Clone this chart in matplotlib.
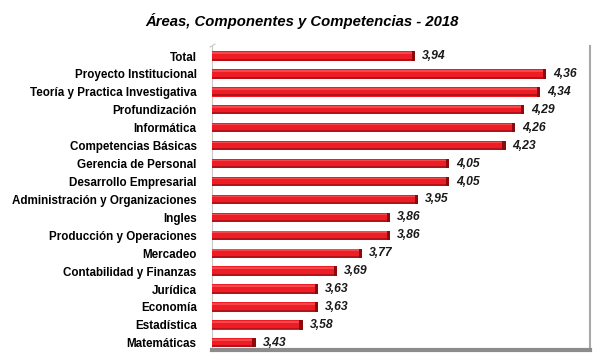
"""Áreas, Componentes y Competencias - 2018: barras horizontales."""

import matplotlib
matplotlib.use("Agg")
import matplotlib.pyplot as plt
from matplotlib.lines import Line2D

plt.rcParams["font.family"] = ["Liberation Sans", "DejaVu Sans"]

categorias = [
    "Total",
    "Proyecto Institucional",
    "Teoría y Practica Investigativa",
    "Profundización",
    "Informática",
    "Competencias Básicas",
    "Gerencia de Personal",
    "Desarrollo Empresarial",
    "Administración y Organizaciones",
    "Ingles",
    "Producción y Operaciones",
    "Mercadeo",
    "Contabilidad y Finanzas",
    "Jurídica",
    "Economía",
    "Estadística",
    "Matemáticas",
]
valores = [3.94, 4.36, 4.34, 4.29, 4.26, 4.23, 4.05, 4.05, 3.95,
           3.86, 3.86, 3.77, 3.69, 3.63, 3.63, 3.58, 3.43]
etiquetas = [f"{v:.2f}".replace(".", ",") for v in valores]

X_MIN, X_MAX = 3.29, 4.5

fig = plt.figure(figsize=(6.04, 3.61), dpi=100)
ax = fig.add_axes([212 / 604, 11 / 361, 378 / 604, 304 / 361])

pos = list(range(len(categorias)))
anchos = [v - X_MIN for v in valores]

# cuerpo rojo
ax.barh(pos, anchos, left=X_MIN, height=0.52, color="#ee1c24", zorder=3)
# brillo superior y sombra inferior
ax.barh([p - 0.17 for p in pos], anchos, left=X_MIN, height=0.09,
        color="#f4484d", zorder=4, linewidth=0)
ax.barh([p + 0.2 for p in pos], anchos, left=X_MIN, height=0.11,
        color="#b3121a", zorder=4, linewidth=0)
# tapa del cilindro
ax.barh(pos, [0.011] * len(pos), left=[v - 0.011 for v in valores],
        height=0.52, color="#8a0a0e", zorder=5, linewidth=0)

for p, v, t in zip(pos, valores, etiquetas):
    ax.text(v + 0.022, p, t, va="center", ha="left", fontsize=8.7,
            fontweight="bold", fontstyle="italic", color="#1a1a1a")

ax.set_xlim(X_MIN, X_MAX)
ax.set_ylim(len(pos) - 0.6, -0.56)
ax.set_yticks(pos)
ax.set_yticklabels(categorias, fontsize=8.4, fontweight="bold")
ax.tick_params(axis="y", length=0, pad=11)
ax.set_xticks([])

ax.spines["top"].set_visible(False)
ax.spines["left"].set_color("#c8c8c8")
ax.spines["left"].set_linewidth(0.8)
ax.spines["right"].set_color("#a8a8a8")
ax.spines["right"].set_linewidth(1.5)
ax.spines["bottom"].set_color("#8c8c8c")
ax.spines["bottom"].set_linewidth(3)

# esquina superior del muro izquierdo
fig.add_artist(Line2D([210 / 604, 215 / 604], [(361 - 47) / 361, (361 - 44) / 361],
                      color="#c8c8c8", lw=0.8))

fig.suptitle("Áreas, Componentes y Competencias - 2018", y=0.965,
             fontsize=10.7, fontweight="bold", fontstyle="italic")

fig.savefig("out.png", dpi=100)
